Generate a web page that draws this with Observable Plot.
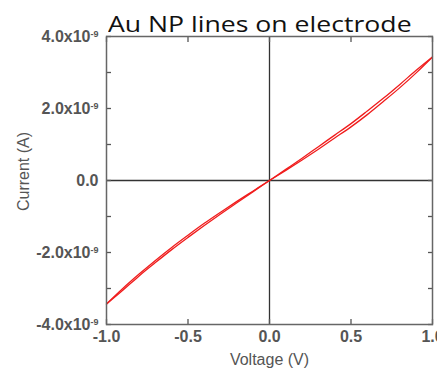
<!DOCTYPE html>
<html>
<head>
<meta charset="utf-8">
<script src="https://cdn.jsdelivr.net/npm/d3@7"></script>
<script src="https://cdn.jsdelivr.net/npm/@observablehq/plot@0.6"></script>
<style>
  html, body { margin: 0; padding: 0; background: #fff; }
  #wrap { position: relative; width: 437px; height: 368px; overflow: hidden; }
  #title { position: absolute; left: 108px; top: 12px; font-family: "Open Sans", sans-serif; font-size: 22px; color: #111; white-space: nowrap; line-height: 1; transform: scaleX(1.21); transform-origin: 0 0; z-index: 2; }
</style>
</head>
<body>
<div id="wrap"><div id="title">Au NP lines on electrode</div></div>
<script>
// Voltage sweep points (V)
const voltage = [-1.0, -0.9, -0.8, -0.7, -0.6, -0.5, -0.4, -0.3, -0.2, -0.1, 0.0, 0.1, 0.2, 0.3, 0.4, 0.5, 0.6, 0.7, 0.8, 0.9, 1.0];
// Forward sweep current (x1e-9 A)
const currentForward = [-3.43, -3.00, -2.60, -2.22, -1.86, -1.52, -1.19, -0.88, -0.58, -0.29, 0.0, 0.28, 0.57, 0.87, 1.18, 1.49, 1.83, 2.20, 2.58, 2.99, 3.43];
// Reverse sweep current (x1e-9 A), listed at the same voltages
const currentReverse = [-3.43, -3.05, -2.65, -2.28, -1.92, -1.58, -1.25, -0.93, -0.62, -0.31, 0.0, 0.31, 0.62, 0.94, 1.26, 1.58, 1.93, 2.29, 2.67, 3.06, 3.43];
const xTicks = [-1.0, -0.5, 0.0, 0.5, 1.0];
const xTickLabels = ["-1.0", "-0.5", "0.0", "0.5", "1.0"];
const yTicks = [-4e-9, -2e-9, 0, 2e-9, 4e-9];
const yTickLabels = ["-4.0x10", "-2.0x10", "0.0", "2.0x10", "4.0x10"];
const yMinorTicks = [-4e-9, -3e-9, -2e-9, -1e-9, 0, 1e-9, 2e-9, 3e-9, 4e-9];
const exponentLabel = "-9";

const forward = voltage.map((v, i) => ({V: v, I: currentForward[i] * 1e-9, sweep: "forward"}));
const reverse = voltage.map((v, i) => ({V: v, I: currentReverse[i] * 1e-9, sweep: "reverse"}));

const tickColor = "#555";
const noLabel = () => "";
const plot = Plot.plot({
  width: 437,
  height: 368,
  marginLeft: 106,
  marginRight: 5,
  marginTop: 36,
  marginBottom: 44,
  style: {fontFamily: "'Liberation Sans', Arial, sans-serif", background: "#fff", overflow: "visible"},
  x: {domain: [-1, 1]},
  y: {domain: [-4e-9, 4e-9]},
  marks: [
    Plot.ruleX([0], {stroke: "#333", strokeWidth: 1.3}),
    Plot.ruleY([0], {stroke: "#333", strokeWidth: 1.3}),
    Plot.line(forward, {x: "V", y: "I", stroke: "#f01c1c", strokeWidth: 1.3, curve: "monotone-x"}),
    Plot.line(reverse, {x: "V", y: "I", stroke: "#f01c1c", strokeWidth: 1.3, curve: "monotone-x"}),
    // inward ticks
    Plot.axisX(xTicks, {anchor: "bottom", tickSize: -5, tickFormat: noLabel, label: null, stroke: tickColor, strokeWidth: 1.3}),
    Plot.axisX(xTicks, {anchor: "top", tickSize: -5, tickFormat: noLabel, label: null, stroke: tickColor, strokeWidth: 1.3}),
    Plot.axisY(yMinorTicks, {anchor: "left", tickSize: -5, tickFormat: noLabel, label: null, stroke: tickColor, strokeWidth: 1.3}),
    Plot.axisY(yMinorTicks, {anchor: "right", tickSize: -5, tickFormat: noLabel, label: null, stroke: tickColor, strokeWidth: 1.3}),
    // labels
    Plot.axisX(xTicks, {anchor: "bottom", tickSize: 0, tickPadding: 6, tickFormat: (d, i) => xTickLabels[i],
      fontSize: 16, fontWeight: "bold", fill: tickColor,
      label: "Voltage (V)", labelArrow: "none", labelAnchor: "center", labelOffset: 40}),
    Plot.axisY(yTicks, {anchor: "left", tickSize: 0, tickPadding: 8, tickFormat: (d, i) => yTickLabels[i],
      fontSize: 16, fontWeight: "bold", fill: tickColor,
      label: "Current (A)", labelArrow: "none", labelAnchor: "center", labelOffset: 89}),
    Plot.frame({stroke: "#666", strokeWidth: 1.5})
  ]
});
document.getElementById("wrap").appendChild(plot);

// superscript exponents on y tick labels
d3.select(plot).selectAll("g[aria-label='y-axis tick label'] text").each(function() {
  const t = d3.select(this);
  if (t.text().endsWith("x10")) {
    t.append("tspan").attr("dy", "-0.55em").attr("font-size", "9px").text(exponentLabel);
  }
});
d3.select(plot).selectAll("g[aria-label='x-axis label'] text, g[aria-label='y-axis label'] text")
  .attr("font-size", 16).attr("fill", "#555").attr("font-weight", "normal");
d3.select(plot).selectAll("g[aria-label='y-axis label'] text").attr("dx", 9);
</script>
</body>
</html>
